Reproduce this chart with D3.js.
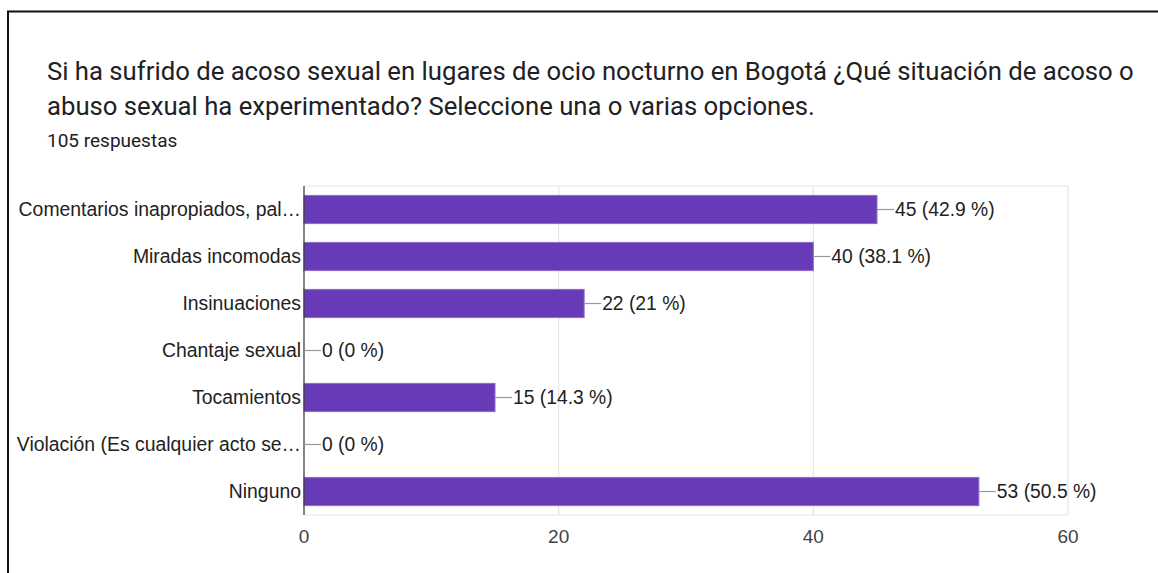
<!DOCTYPE html>
<html><head><meta charset="utf-8">
<script src="https://cdnjs.cloudflare.com/ajax/libs/d3/7.8.5/d3.min.js"></script>
<style>body{margin:0;background:#fff;} svg{display:block;}</style>
</head><body>
<script>
const categories = ["Comentarios inapropiados, pal…","Miradas incomodas","Insinuaciones","Chantaje sexual","Tocamientos","Violación (Es cualquier acto se…","Ninguno"];
const counts = [45,40,22,0,15,0,53];
const percents = ["42.9","38.1","21","0","14.3","0","50.5"];
const xTicks = [0,20,40,60];
const titleLines = ["Si ha sufrido de acoso sexual en lugares de ocio nocturno en Bogotá ¿Qué situación de acoso o","abuso sexual ha experimentado? Seleccione una o varias opciones."];
const subtitle = "105 respuestas";

const W=1158,H=573;
const svg=d3.select("body").append("svg").attr("width",W).attr("height",H);
svg.append("rect").attr("width",W).attr("height",H).attr("fill","#fff");
// frame
svg.append("path").attr("d","M8,"+(H+5)+" V11.5 H"+(W+5)).attr("fill","none").attr("stroke","#111").attr("stroke-width",2);

const tg=svg.append("g").attr("font-family","Roboto, 'Noto Sans', sans-serif").attr("fill","#202124");
tg.selectAll("text.t").data(titleLines).join("text").attr("class","t")
  .attr("x",47).attr("y",(d,i)=>80+i*35).attr("font-size",25.7).text(d=>d);
tg.append("text").attr("x",47).attr("y",147).attr("font-size",19).text(subtitle);

const x=d3.scaleLinear().domain([0,60]).range([304,1068]);
const y=d3.scaleBand().domain(categories).range([186,515]).paddingInner(0.4).paddingOuter(0.2);

const g=svg.append("g").attr("font-family","'Liberation Sans', Arial, sans-serif");
// gridlines
g.selectAll("line.grid").data(xTicks.slice(1)).join("line").attr("class","grid")
  .attr("x1",d=>x(d)).attr("x2",d=>x(d)).attr("y1",186).attr("y2",515)
  .attr("stroke","#e6e6e6").attr("stroke-width",1.2);
g.append("line").attr("x1",x(0)).attr("x2",x(60)).attr("y1",186).attr("y2",186).attr("stroke","#e6e6e6").attr("stroke-width",1.2);
g.append("line").attr("x1",x(0)).attr("x2",x(60)).attr("y1",515).attr("y2",515).attr("stroke","#e6e6e6").attr("stroke-width",1.2);

// bars
g.selectAll("rect.bar").data(categories).join("rect").attr("class","bar")
  .attr("x",x(0)).attr("y",d=>y(d)).attr("height",y.bandwidth())
  .attr("width",(d,i)=>x(counts[i])-x(0))
  .attr("fill","#673ab7").attr("stroke","#8e6bd0").attr("stroke-width",(d,i)=>counts[i]>0?1:0);

// axis line
g.append("line").attr("x1",x(0)).attr("x2",x(0)).attr("y1",186).attr("y2",515).attr("stroke","#333").attr("stroke-width",1.2);

// category labels
g.selectAll("text.cat").data(categories).join("text").attr("class","cat")
  .attr("x",x(0)-3).attr("y",d=>y(d)+y.bandwidth()/2).attr("dy","0.36em")
  .attr("text-anchor","end").attr("font-size",19.4).attr("fill","#222").text(d=>d);

// leader lines + value labels
g.selectAll("line.lead").data(categories).join("line").attr("class","lead")
  .attr("x1",(d,i)=>x(counts[i])).attr("x2",(d,i)=>x(counts[i])+17)
  .attr("y1",d=>y(d)+y.bandwidth()/2).attr("y2",d=>y(d)+y.bandwidth()/2)
  .attr("stroke","#999").attr("stroke-width",1.2);
g.selectAll("text.val").data(categories).join("text").attr("class","val")
  .attr("x",(d,i)=>x(counts[i])+18).attr("y",d=>y(d)+y.bandwidth()/2).attr("dy","0.36em")
  .attr("font-size",19.3).attr("fill","#222").text((d,i)=>counts[i]+" ("+percents[i]+" %)");

// x tick labels
g.selectAll("text.tick").data(xTicks).join("text").attr("class","tick")
  .attr("x",d=>x(d)).attr("y",543).attr("text-anchor","middle")
  .attr("font-size",19).attr("fill","#444").text(d=>d);
</script>
</body></html>
